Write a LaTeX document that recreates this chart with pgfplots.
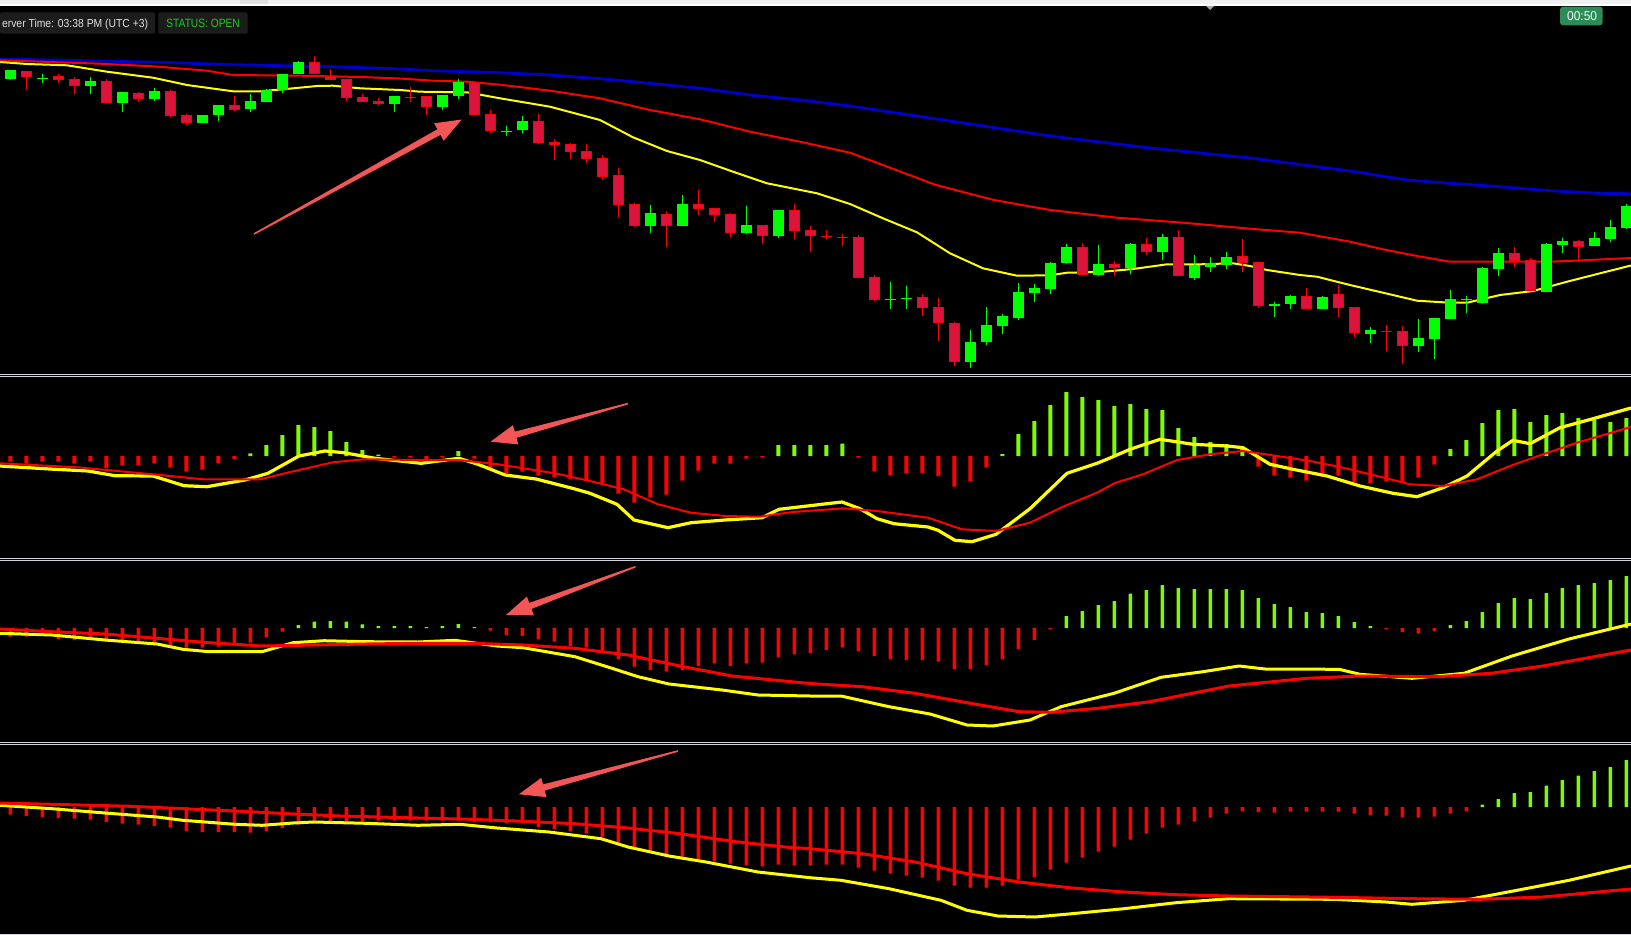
\documentclass[border=0pt]{standalone}
\usepackage{graphicx}
\usepackage{pgfplots}
\pgfplotsset{compat=1.18}
\usepackage{pgfplotstable}
\usepackage{fontspec}
\setmainfont{Liberation Sans}
\usetikzlibrary{calc}

\definecolor{cgreen}{HTML}{00FF00}
\definecolor{cbody}{HTML}{DC143C}
\definecolor{cred}{HTML}{FF0000}
\definecolor{mablue}{HTML}{0000CD}
\definecolor{cyell}{HTML}{FFFF00}
\definecolor{hgreen}{HTML}{7CFC00}
\definecolor{arrowc}{HTML}{F25656}
\definecolor{boxbg}{HTML}{1C1C1C}
\definecolor{sepc}{HTML}{D4D4DC}
\definecolor{stripc}{HTML}{F0F0F0}
\definecolor{timerbg}{HTML}{2E8B57}
\definecolor{statusc}{HTML}{1FCC1F}

% everything is measured in screen pixels of the 1631x935 chart, y grows downward
% candles: k open high low close
\pgfplotstableread{
k o h l c
0 78.7 70.3 80.3 70.3
2 77.7 74 82.7 77.7
5 85.7 77 94 81
7 102.7 92 112.3 92
9 98.7 88.3 101.3 91
12 122.7 115.3 123.3 115.3
13 115.3 105.3 120.7 105.3
15 109.3 94 112.3 101
16 101.7 89 101.7 90
17 90 74 93.3 74
18 74.3 61 74.3 62
24 103.7 96 111.7 96
27 106.7 95 110 95
28 95.7 79.3 98.7 82.3
31 130.7 126 135.7 130.7
32 130 116 132.7 121
40 225.7 205 232.7 213
42 225.7 195 225.7 204
46 232.7 206 233.7 225
48 235.7 210 237.7 210
55 298.7 282 308.7 298.7
56 297.7 286 308.7 297.7
60 361.7 330 367.7 342.3
61 341.7 307 344.7 325
62 325.7 314 333.7 316
63 317.7 283 319.7 292
64 292.7 284 301.7 288
65 288.7 262 293.7 263
66 262.7 244 263.7 247
68 274.7 245 275.7 264
70 267.7 243 273.7 244
72 251.7 234 259.7 237
74 277.7 255 279.7 265
75 266.7 257 271.7 263
76 265 252 269 257
79 304.3 302 316.7 304.3
80 303.7 295.3 308.7 296.3
82 308.7 296 308.7 297
85 333.7 327 342.7 330
88 345.7 319 351.7 338
89 338.7 318 358.7 318
90 318.7 290 318.7 299
91 298.7 296 312.7 298.7
92 303.3 267 303.7 268
93 268.7 248 275.7 253
96 291.7 243 291.7 244
97 244.7 238 252.7 241
99 245.7 232 245.7 238
100 238.7 220 241.7 227
101 227.7 204 228.7 206
}\bull
\pgfplotstableread{
k o h l c
1 71 71 89.7 77
3 76 74 82.7 79.7
4 79 77 93.7 85.7
6 81 79.3 102.7 102.7
8 93 92 101.7 98.7
10 91 89.7 117.3 116
11 115.3 114.3 125.3 122.7
14 105.3 96 110.7 109.7
19 62 55.7 74.3 74.3
20 76 69 80 80
21 79 79 101 97.7
22 97.3 94.3 101.7 101.7
23 101 97.7 106 103.7
25 96.7 87.3 101.7 96.7
26 96 96 114.7 106.7
29 82.3 82.3 114.7 114.7
30 114 110 132.7 130.7
33 121 114 143.7 142.7
34 142 139 159.7 145
35 144 143.3 158.7 151.7
36 151 143.7 162.7 158.7
37 158 155 179.7 176.7
38 175.3 167.7 216.7 204.7
39 204 203.3 227 225.7
41 214 211.3 246.7 225.7
43 204 190 215 209
44 208 208 221.7 214.7
45 214 213 236.7 232.7
47 225 225 243.7 235.7
49 210 204 238.7 230.7
50 230 226 252 235.7
51 235.7 230 238.7 235.7
52 236.7 233.7 245.7 236.7
53 237.3 235.3 277.7 277.7
54 277.3 275.3 301 299.7
57 297.3 294 315.7 307.7
58 307.3 298 340.7 323.3
59 323.3 322 365.7 361.7
67 247 243 274.7 274.7
69 264 261 275.7 267.7
71 244 238 254.7 251.7
73 237 230 275.7 275.7
77 256 239 271.7 262.7
78 262 262 307.7 305.7
81 296 288 308.7 308.7
83 294 285 316.7 307.7
84 307 307 336.7 332.7
86 330.7 325 350.7 330.7
87 331 326 363.7 345.7
94 253 247 266.7 260.7
95 260 258 290.7 290.7
98 241 240 261.7 246.7
}\bear

% moving averages
\pgfplotstableread{
x p
0 59
50 60
100 61
160 62.3
233 64.7
300 66
353 67.3
400 69
433 70.7
500 72.7
550 75
600 78.7
650 83.3
700 88.3
750 95
800 100
850 106
950 121
1050 136
1150 148
1250 158
1350 171
1407 180
1450 183.3
1500 186.7
1550 190.7
1600 193.3
1631 193.7
}\maBlue
\pgfplotstableread{
x p
0 60.3
50 62
100 63.7
153 66.3
207 70.7
233 75
300 75.7
360 77
400 78.5
433 80.7
467 81.7
500 84.7
550 90.7
600 98.3
650 110
700 119.3
750 131.7
800 141.7
850 152.7
936 185
994 200
1050 210
1117 217.7
1183 222.7
1250 228.7
1300 232.7
1350 241.7
1383 249.3
1417 256
1450 261.7
1550 261.7
1583 260.3
1631 258
}\maRed
\pgfplotstableread{
x p
0 62
27 64
67 65.3
107 71.7
153 77.7
187 85
233 91.3
260 91.3
283 89.3
317 86
333 85.7
360 88.3
400 90
420 91.7
467 92.3
500 98.3
550 106.7
600 120
633 137.3
667 151
700 160
733 171.7
767 183.3
817 193.3
850 204
883 218.3
917 232.3
950 253.3
983 268.3
1017 275.7
1050 275.3
1067 272.7
1100 272
1133 269
1167 264.3
1200 264.3
1233 263.3
1250 266
1267 270
1300 275
1317 276.7
1350 285
1383 292.7
1417 300.7
1450 302.7
1467 302.7
1500 295
1533 291
1567 281.7
1600 273.3
1631 265.5
}\maYel

% MACD pane 1 (zero line at y=456 px)
\pgfplotstableread{
k p
0 461.7
1 463.3
2 461.7
3 461.7
4 463.7
5 461.7
6 468.3
7 465.7
8 465.7
9 463.3
10 467.7
11 471.7
12 469.7
13 463
14 459
15 453.3
16 445
17 435
18 425
19 427
20 431
21 442
22 450
23 454.5
24 457.5
25 457.5
26 460
27 457.7
28 451
29 458.7
30 469.3
31 473.3
32 471.7
33 475.7
34 477.3
35 479
36 480
37 484.3
38 493.7
39 502.7
40 497.7
41 494.7
42 480.7
43 470.7
44 463.7
45 463.7
46 458.7
47 457.7
48 445
49 445
50 445
51 445
52 443.7
53 457.5
54 471
55 475
56 473.7
57 473
58 476
59 486.7
60 481.7
61 467.7
62 454
63 434
64 421
65 405
66 392
67 397
68 400
69 406
70 404
71 409
72 410
73 428
74 437
75 442
76 444
77 447
78 466.7
79 475.7
80 477.7
81 480.7
82 476.7
83 475.7
84 482.7
85 483.7
86 481.7
87 482.7
88 477.7
89 464.7
90 449
91 440
92 423
93 410
94 409
95 422
96 415
97 413
98 418
99 420
100 422
101 418
}\histA
\pgfplotstableread{
x p
0 466
50 469
88 471
115 475.7
153 476
184 485.7
207 486.7
245 480
268 473.3
299 456
325 451
344 452.7
375 458.3
421 463.3
459 458.3
478 464.3
505 475
536 479
574 488.7
590 493.3
617 504.3
634 520
668 527.7
691 522.7
725 520
762 517.7
779 509.3
827 503.7
842 502
860 508.7
877 518.7
894 523.7
928 527
938 530.3
955 540.3
972 541.7
996 534.3
1030 508.7
1067 473.3
1097 463.3
1110 458
1130 449.3
1160 439.3
1193 444.3
1227 446
1243 447.7
1270 464.3
1293 469.3
1327 476
1360 486
1393 493.3
1417 496.7
1443 487.7
1467 476
1497 451
1513 440.3
1530 443.7
1560 427.7
1593 418.7
1631 408
}\macdA
\pgfplotstableread{
x p
0 463.3
77 467.3
153 474.3
203 479.3
260 479.3
299 470
333 462.3
364 459.3
421 460
459 460
498 464.3
555 473.3
590 481
624 489.3
658 504.3
691 512.7
725 516
759 516.7
793 512
844 508.3
877 511
928 517.7
962 529.3
996 531
1030 522.7
1063 506.7
1097 492.7
1115 483
1143 474.3
1177 460
1210 454.3
1243 451
1277 456
1310 461
1343 467.7
1377 476
1410 484.3
1443 486
1477 479.3
1510 466
1543 454.3
1577 442.7
1631 427
}\sigA

% MACD pane 2 (zero line at y=628 px)
\pgfplotstableread{
k p
0 636.7
1 636.7
2 635
3 639
4 640
5 639.3
6 641.7
7 642.7
8 643.3
9 645
10 646
11 647.7
12 647.7
13 646.7
14 644
15 642.7
16 637.3
17 631.7
18 625
19 621.7
20 621
21 621.7
22 624.3
23 626
24 626
25 626
26 627
27 626
28 624
29 627
30 630.7
31 635
32 636
33 639
34 641.7
35 646
36 647.3
37 651.7
38 659
39 666.7
40 670
41 671.7
42 670
43 666
44 663.3
45 666
46 663.3
47 662.7
48 657.3
49 654.3
50 653
51 650
52 647.3
53 651
54 656
55 659
56 660
57 660
58 661.7
59 669
60 669
61 665
62 659
63 649
64 640
65 629.3
66 616
67 611
68 605
69 601
70 593.7
71 590
72 585
73 588
74 589
75 589
76 589
77 590
78 598
79 604
80 607
81 612
82 613
83 616
84 622
85 626
86 629.3
87 632
88 633.7
89 631
90 625
91 621
92 612
93 603
94 598
95 599
96 593
97 588
98 585
99 583
100 580
101 576
}\histB
\pgfplotstableread{
x p
0 633.3
52 635
105 640
157 644
183 649.3
209 651.7
262 651.7
293 642.7
324 640.7
366 641.7
418 642
455 640.3
497 646
523 647.7
575 656.7
612 668.3
638 676.7
669 684
722 690
758 695
810 696
841 696
889 706.7
930 714
967 725
993 726
1030 720
1061 706.7
1114 693.3
1161 677.3
1203 671.7
1239 666
1265 669
1339 669.3
1360 674.3
1412 678.3
1464 673.3
1512 656
1569 639
1631 624
}\macdB
\pgfplotstableread{
x p
0 629
52 631.7
105 634
157 638.3
209 642.7
262 646
314 645
366 644
418 643.3
471 643.3
523 645
575 648.3
628 655
680 666
732 676
810 683.5
862 686.7
915 693.3
967 702.7
1019 711.7
1051 712.3
1098 708.3
1150 701.7
1229 686
1307 678.3
1360 676
1438 676.7
1491 673.3
1543 666
1631 650
}\sigB

% MACD pane 3 (zero line at y=807 px)
\pgfplotstableread{
k p
0 814.7
1 816
2 817
3 818
4 818.7
5 819.7
6 822
7 823.7
8 824.7
9 826
10 827.7
11 831
12 832
13 832
14 832
15 832.7
16 831
17 828
18 824.7
19 822
20 821.3
21 821.3
22 821.3
23 820.7
24 820.7
25 820.7
26 820.7
27 820.7
28 820.7
29 822
30 822
31 823
32 823.7
33 827
34 829.3
35 831.3
36 833.7
37 837
38 842.7
39 848.7
40 852.7
41 857
42 858.7
43 860.3
44 861.3
45 863.7
46 865.3
47 866.3
48 864.7
49 865.3
50 865.7
51 864.7
52 864.7
53 867.7
54 870.7
55 873.7
56 875.7
57 877.7
58 880.7
59 885.7
60 887.7
61 887.7
62 885.7
63 879.7
64 877
65 869.7
66 862.7
67 857.7
68 851.7
69 846.7
70 839.7
71 833.7
72 827.7
73 824.7
74 821.7
75 817.7
76 813.7
77 811
78 812
79 812.7
80 811.7
81 811.7
82 811.7
83 811.7
84 813.7
85 815
86 815.7
87 817.3
88 817.7
89 816.7
90 813.7
91 811
92 804.7
93 799
94 793
95 792
96 785.7
97 780
98 775.7
99 771
100 767
101 760
}\histC
\pgfplotstableread{
x p
0 805.3
52 808.7
105 813
157 817
183 820.3
235 824.3
262 825.3
293 823
314 822
366 823.3
418 825.3
460 824.3
497 828
549 832
601 838.7
628 847
669 856
706 862
758 872
810 877.7
841 880.3
889 888.7
941 900.3
967 910.3
998 916
1035 917
1072 913.7
1124 908.7
1176 902.7
1229 898.7
1334 899.3
1386 902
1412 904.3
1464 900.3
1517 890.3
1569 880.3
1631 866
}\macdC
\pgfplotstableread{
x p
0 803
68 804.7
131 806.3
183 808.7
235 811
288 813.7
340 816
418 818
471 819.3
523 821.3
575 823.7
628 828
680 833.7
732 841.3
785 847
810 848.7
862 853.7
915 862
967 873.7
1019 882
1072 888
1124 892
1176 894.7
1229 896
1334 897.3
1412 898.7
1480 899.3
1543 897
1631 889
}\sigC

\pgfplotsset{
  pane/.style={scale only axis, width=815.5pt, xmin=0, xmax=1631,
    axis lines=none, ticks=none, anchor=north west},
  ln/.style={line join=round, no markers},
  eb/.style={draw=none, no markers, error bars/.cd, y dir=plus, y explicit,
    error mark=none, error bar style={#1}},
}

% tapered annotation arrow, from tail #1 to tip #2
\newcommand\fatarrow[2]{%
  \coordinate (T) at (#1);
  \coordinate (B) at (#2);
  \coordinate (H) at ($(B)!13pt!(T)$);
  \fill[arrowc] ($(T)!0.4pt!90:(B)$) -- ($(H)!1.6pt!90:(B)$) -- ($(H)!5pt!90:(B)$)
    -- (B) -- ($(H)!5pt!-90:(B)$) -- ($(H)!1.6pt!-90:(B)$) -- ($(T)!0.4pt!-90:(B)$) -- cycle;}

\begin{document}
\begin{tikzpicture}
\useasboundingbox (0,0) rectangle (815.5pt,-467.5pt);
\fill[black] (0,0) rectangle (815.5pt,-467.5pt);

% price pane
\begin{axis}[pane, at={(0pt,-3pt)}, height=183.75pt, ymin=6, ymax=373.5, y dir=reverse]
  \addplot[ln, mablue, line width=1.4pt] table[x=x, y=p] {\maBlue};
  \addplot[ln, cred, line width=1pt] table[x=x, y=p] {\maRed};
  \addplot[ln, cyell, line width=1pt] table[x=x, y=p] {\maYel};
  % wicks
  \addplot[eb={draw=cgreen, line width=0.55pt}]
    table[x expr=10.3+16*\thisrow{k}, y=h, y error plus expr=\thisrow{l}-\thisrow{h}] {\bull};
  \addplot[eb={draw=cred, line width=0.55pt}]
    table[x expr=10.3+16*\thisrow{k}, y=h, y error plus expr=\thisrow{l}-\thisrow{h}] {\bear};
  % bodies
  \addplot[eb={draw=cgreen, line width=5.5pt}]
    table[x expr=10.3+16*\thisrow{k}, y expr={min(\thisrow{o},\thisrow{c})},
          y error plus expr={max(abs(\thisrow{o}-\thisrow{c}),1.2)}] {\bull};
  \addplot[eb={draw=cred, line width=5.5pt}]
    table[x expr=10.3+16*\thisrow{k}, y expr={min(\thisrow{o},\thisrow{c})},
          y error plus expr={max(abs(\thisrow{o}-\thisrow{c}),1.2)}] {\bear};
  \addplot[eb={draw=cbody, line width=4.5pt}]
    table[x expr=10.3+16*\thisrow{k}, y expr={min(\thisrow{o},\thisrow{c})+1},
          y error plus expr={max(abs(\thisrow{o}-\thisrow{c})-2,0)}] {\bear};
\end{axis}

% MACD 1
\begin{axis}[pane, at={(0pt,-188.5pt)}, height=90.5pt, ymin=-102, ymax=79]
  \addplot[ybar, bar width=2pt, draw=none, fill=hgreen, restrict y to domain=0:500]
    table[x expr=10.3+16*\thisrow{k}, y expr=456-\thisrow{p}] {\histA};
  \addplot[ybar, bar width=2pt, draw=none, fill=cred, restrict y to domain=-500:0]
    table[x expr=10.3+16*\thisrow{k}, y expr=456-\thisrow{p}] {\histA};
  \addplot[ln, cyell, line width=1.6pt] table[x=x, y expr=456-\thisrow{p}] {\macdA};
  \addplot[ln, cred, line width=1pt] table[x=x, y expr=456-\thisrow{p}] {\sigA};
\end{axis}

% MACD 2
\begin{axis}[pane, at={(0pt,-280.5pt)}, height=90.5pt, ymin=-114, ymax=67]
  \addplot[ybar, bar width=1.7pt, draw=none, fill=hgreen, restrict y to domain=0:500]
    table[x expr=10.3+16*\thisrow{k}, y expr=628-\thisrow{p}] {\histB};
  \addplot[ybar, bar width=1.7pt, draw=none, fill=cred, restrict y to domain=-500:0]
    table[x expr=10.3+16*\thisrow{k}, y expr=628-\thisrow{p}] {\histB};
  \addplot[ln, cyell, line width=1.5pt] table[x=x, y expr=628-\thisrow{p}] {\macdB};
  \addplot[ln, cred, line width=1.5pt] table[x=x, y expr=628-\thisrow{p}] {\sigB};
\end{axis}

% MACD 3
\begin{axis}[pane, at={(0pt,-372.5pt)}, height=94.25pt, ymin=-126.5, ymax=62]
  \addplot[ybar, bar width=1.8pt, draw=none, fill=hgreen, restrict y to domain=0:500]
    table[x expr=10.3+16*\thisrow{k}, y expr=807-\thisrow{p}] {\histC};
  \addplot[ybar, bar width=1.8pt, draw=none, fill=cred, restrict y to domain=-500:0]
    table[x expr=10.3+16*\thisrow{k}, y expr=807-\thisrow{p}] {\histC};
  \addplot[ln, cyell, line width=1.5pt] table[x=x, y expr=807-\thisrow{p}] {\macdC};
  \addplot[ln, cred, line width=1.5pt] table[x=x, y expr=807-\thisrow{p}] {\sigC};
\end{axis}

% window chrome, in pixels
\begin{scope}[x=0.5pt, y=-0.5pt]
  \fill[stripc] (0,0) rectangle (1631,4.3);
  \fill[black!12] (240,0) rectangle (268,4.3);
  \fill[white] (0,4.3) rectangle (1631,6);
  \fill[gray!70] (1206,6) -- (1214,6) -- (1210,10) -- cycle;
  \foreach \yy in {374,376,558.5,560.5,742.5,744.5}
    {\fill[sepc] (0,\yy-0.5) rectangle (1631,\yy+0.5);}
  \fill[sepc] (0,933.5) rectangle (1631,935);

  \fill[boxbg, rounded corners=1pt] (0,12.3) rectangle (155,33.7);
  \node[anchor=base west, inner sep=0, text=black!12] at (1.7,27.8)
    {\resizebox{73pt}{4.2pt}{erver Time: 03:38 PM (UTC +3)}};
  \fill[boxbg, rounded corners=1pt] (158.3,12.3) rectangle (247.7,33.7);
  \node[anchor=base west, inner sep=0, text=statusc] at (166,27.8)
    {\resizebox{36.7pt}{4.2pt}{STATUS: OPEN}};

  \fill[timerbg, rounded corners=1.5pt] (1560,6.7) rectangle (1602.7,25.3);
  \node[anchor=base west, inner sep=0, text=white!92!cyan] at (1566.7,20.7)
    {\resizebox{15pt}{4.5pt}{00:50}};

  \fatarrow{254,234}{461.7,119.5}
  \fatarrow{628,403.6}{490.6,441.7}
  \fatarrow{635.5,566.7}{506,615}
  \fatarrow{678,751}{518.8,794.3}
\end{scope}
\end{tikzpicture}
\end{document}
